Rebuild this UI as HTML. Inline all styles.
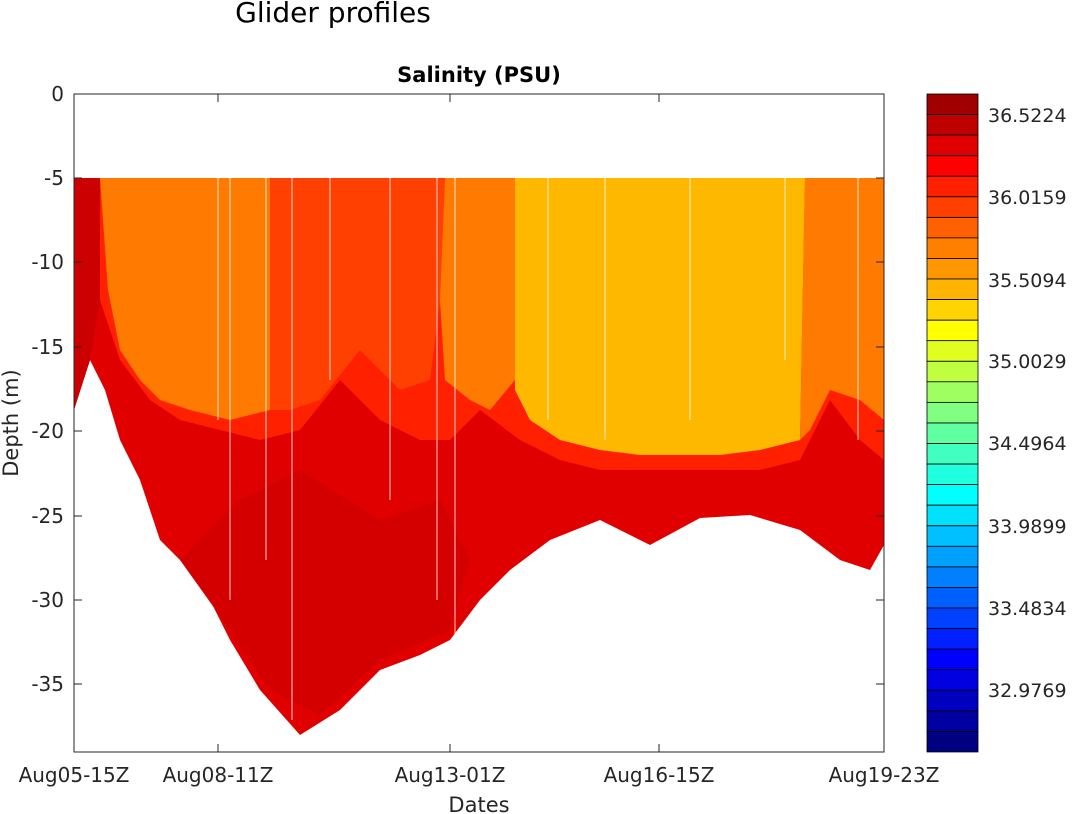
<!DOCTYPE html>
<html><head><meta charset="utf-8"><style>
body{margin:0;background:#fff;}
svg{display:block;font-family:"DejaVu Sans","Liberation Sans",sans-serif;}
</style></head><body>
<svg width="1073" height="814" viewBox="0 0 1073 814" xmlns="http://www.w3.org/2000/svg">
<rect width="1073" height="814" fill="#fff"/>
<text x="333" y="22" font-size="28" text-anchor="middle" fill="#000">Glider profiles</text>
<text x="479" y="82" font-size="21" font-weight="bold" text-anchor="middle" fill="#000">Salinity  (PSU)</text>
<clipPath id="c"><rect x="74" y="94" width="810" height="658"/></clipPath>
<g clip-path="url(#c)">
<polygon fill="#e00000" points="74,178 884,178 884,545 870,570 840,560 800,530 750,515 700,518 650,545 600,520 550,540 510,570 480,600 450,640 420,655 380,670 340,710 300,735 260,690 230,640 210,600 190,570 160,540 140,480 120,440 105,390 90,360 74,410"/>
<polygon fill="#d40000" points="180,560 240,500 300,470 380,520 440,500 470,560 450,630 380,660 320,715 270,690 230,630"/>
<polygon fill="#ff2000" points="100,178 884,178 884,460 860,440 830,400 800,460 760,470 700,470 650,470 600,470 560,460 520,440 480,410 450,440 420,440 380,420 340,380 300,430 260,440 220,430 180,420 150,400 120,360 100,300"/>
<polygon fill="#ff7a00" points="100,178 270,178 270,410 230,420 190,410 160,400 140,380 120,350 108,290"/>
<polygon fill="#ff4000" points="270,178 445,178 440,300 430,380 400,390 360,350 320,400 290,410 270,410"/>
<polygon fill="#ff7a00" points="445,178 520,178 515,380 490,410 470,400 445,380 440,300"/>
<polygon fill="#ffb800" points="515,178 805,178 800,440 760,450 720,455 680,455 640,455 600,450 560,440 530,420 515,390"/>
<polygon fill="#ff7a00" points="805,178 884,178 884,420 860,400 830,390 810,430 800,440"/>
<polygon fill="#cc0000" points="74,178 100,178 100,300 90,360 74,410"/>
<g stroke="#fff" stroke-width="1" opacity="0.8">
<line x1="218" y1="178" x2="218" y2="420"/><line x1="230" y1="178" x2="230" y2="600"/>
<line x1="266" y1="178" x2="266" y2="560"/><line x1="292" y1="178" x2="292" y2="720"/>
<line x1="330" y1="178" x2="330" y2="380"/><line x1="390" y1="178" x2="390" y2="500"/>
<line x1="437" y1="178" x2="437" y2="600"/><line x1="455" y1="178" x2="455" y2="640"/>
<line x1="548" y1="178" x2="548" y2="420"/><line x1="605" y1="178" x2="605" y2="440"/>
<line x1="690" y1="178" x2="690" y2="420"/><line x1="785" y1="178" x2="785" y2="360"/>
<line x1="858" y1="178" x2="858" y2="440"/>
</g>
</g>
<rect x="74" y="94" width="810" height="658" fill="none" stroke="#262626" stroke-width="1"/>
<g stroke="#262626" stroke-width="1">
<line x1="74" y1="178" x2="82" y2="178"/><line x1="876" y1="178" x2="884" y2="178"/>
<line x1="74" y1="262" x2="82" y2="262"/><line x1="876" y1="262" x2="884" y2="262"/>
<line x1="74" y1="347" x2="82" y2="347"/><line x1="876" y1="347" x2="884" y2="347"/>
<line x1="74" y1="431" x2="82" y2="431"/><line x1="876" y1="431" x2="884" y2="431"/>
<line x1="74" y1="516" x2="82" y2="516"/><line x1="876" y1="516" x2="884" y2="516"/>
<line x1="74" y1="600" x2="82" y2="600"/><line x1="876" y1="600" x2="884" y2="600"/>
<line x1="74" y1="684" x2="82" y2="684"/><line x1="876" y1="684" x2="884" y2="684"/>
<line x1="218" y1="752" x2="218" y2="744"/><line x1="218" y1="94" x2="218" y2="102"/>
<line x1="450" y1="752" x2="450" y2="744"/><line x1="450" y1="94" x2="450" y2="102"/>
<line x1="659" y1="752" x2="659" y2="744"/><line x1="659" y1="94" x2="659" y2="102"/>
</g>
<g font-size="20" fill="#262626" text-anchor="end">
<text x="64" y="101">0</text><text x="64" y="185">-5</text><text x="64" y="269">-10</text>
<text x="64" y="354">-15</text><text x="64" y="438">-20</text><text x="64" y="523">-25</text>
<text x="64" y="607">-30</text><text x="64" y="691">-35</text>
</g>
<g font-size="20" fill="#262626" text-anchor="middle">
<text x="74" y="782">Aug05-15Z</text><text x="218" y="782">Aug08-11Z</text>
<text x="450" y="782">Aug13-01Z</text><text x="659" y="782">Aug16-15Z</text>
<text x="884" y="782">Aug19-23Z</text>
<text x="479" y="812" font-size="21">Dates</text>
<text x="0" y="0" font-size="21" transform="translate(18,423) rotate(-90)">Depth  (m)</text>
</g>
<g stroke="#000" stroke-width="0.8">
<rect x="927" y="94.0" width="51" height="20.56" fill="#a00000"/>
<rect x="927" y="114.6" width="51" height="20.56" fill="#c00000"/>
<rect x="927" y="135.1" width="51" height="20.56" fill="#e00000"/>
<rect x="927" y="155.7" width="51" height="20.56" fill="#ff0000"/>
<rect x="927" y="176.2" width="51" height="20.56" fill="#ff2000"/>
<rect x="927" y="196.8" width="51" height="20.56" fill="#ff4000"/>
<rect x="927" y="217.4" width="51" height="20.56" fill="#ff6000"/>
<rect x="927" y="237.9" width="51" height="20.56" fill="#ff8000"/>
<rect x="927" y="258.5" width="51" height="20.56" fill="#ff9800"/>
<rect x="927" y="279.0" width="51" height="20.56" fill="#ffb400"/>
<rect x="927" y="299.6" width="51" height="20.56" fill="#ffd400"/>
<rect x="927" y="320.2" width="51" height="20.56" fill="#ffff00"/>
<rect x="927" y="340.7" width="51" height="20.56" fill="#e0ff20"/>
<rect x="927" y="361.3" width="51" height="20.56" fill="#c0ff40"/>
<rect x="927" y="381.8" width="51" height="20.56" fill="#a0ff60"/>
<rect x="927" y="402.4" width="51" height="20.56" fill="#80ff80"/>
<rect x="927" y="423.0" width="51" height="20.56" fill="#60ffa0"/>
<rect x="927" y="443.5" width="51" height="20.56" fill="#40ffc0"/>
<rect x="927" y="464.1" width="51" height="20.56" fill="#20ffe0"/>
<rect x="927" y="484.6" width="51" height="20.56" fill="#00ffff"/>
<rect x="927" y="505.2" width="51" height="20.56" fill="#00e0ff"/>
<rect x="927" y="525.8" width="51" height="20.56" fill="#00c0ff"/>
<rect x="927" y="546.3" width="51" height="20.56" fill="#00a0ff"/>
<rect x="927" y="566.9" width="51" height="20.56" fill="#0080ff"/>
<rect x="927" y="587.4" width="51" height="20.56" fill="#0060ff"/>
<rect x="927" y="608.0" width="51" height="20.56" fill="#0040ff"/>
<rect x="927" y="628.6" width="51" height="20.56" fill="#0020ff"/>
<rect x="927" y="649.1" width="51" height="20.56" fill="#0000ff"/>
<rect x="927" y="669.7" width="51" height="20.56" fill="#0000e0"/>
<rect x="927" y="690.2" width="51" height="20.56" fill="#0000c0"/>
<rect x="927" y="710.8" width="51" height="20.56" fill="#0000a0"/>
<rect x="927" y="731.4" width="51" height="20.56" fill="#000080"/>
</g>
<g font-size="19" fill="#262626">
<text x="988" y="122">36.5224</text><text x="988" y="204">36.0159</text>
<text x="988" y="287">35.5094</text><text x="988" y="368">35.0029</text>
<text x="988" y="450">34.4964</text><text x="988" y="533">33.9899</text>
<text x="988" y="615">33.4834</text><text x="988" y="697">32.9769</text>
</g>
</svg>
</body></html>
